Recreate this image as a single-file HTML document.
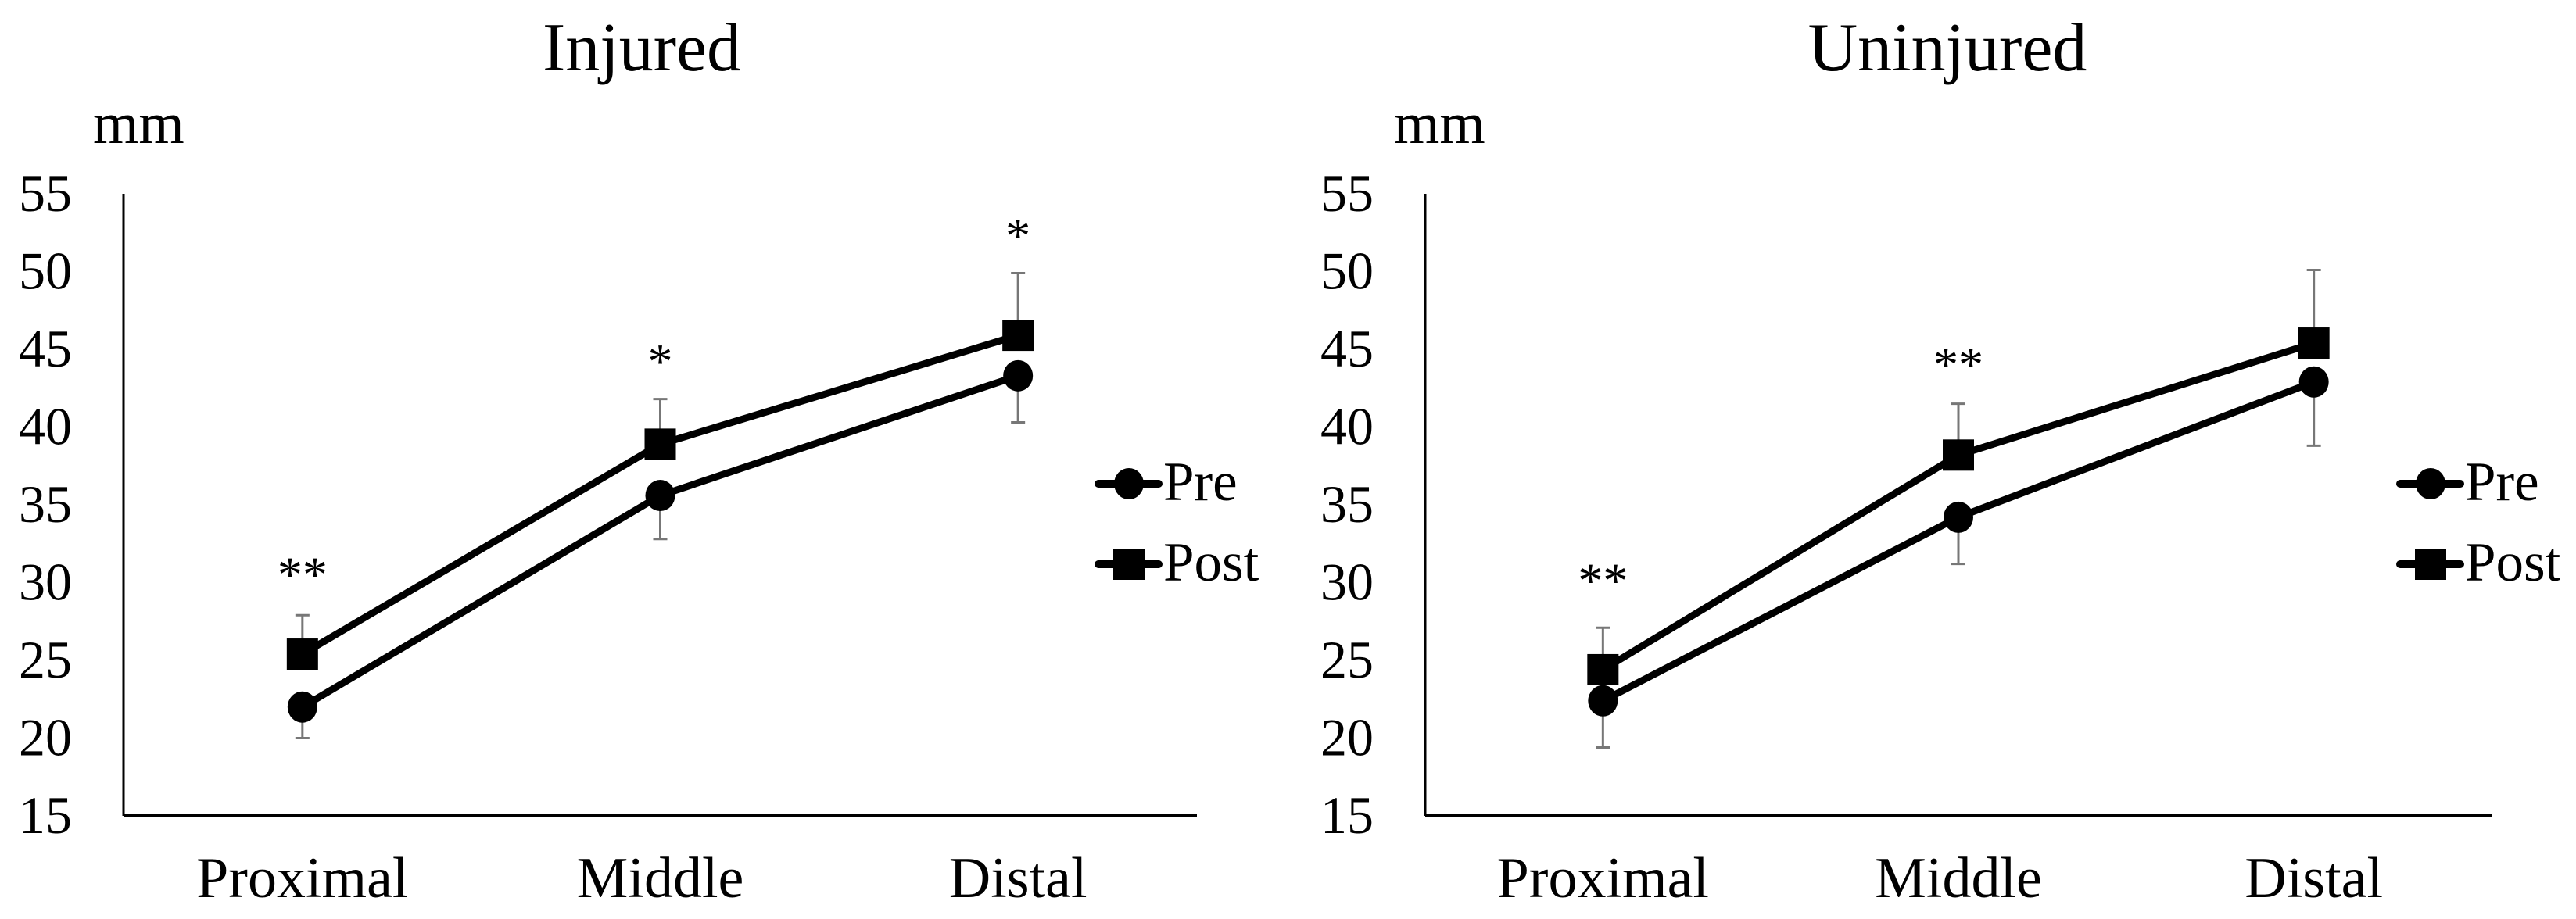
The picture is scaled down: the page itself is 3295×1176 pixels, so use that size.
<!DOCTYPE html>
<html><head><meta charset="utf-8"><style>
html,body{margin:0;padding:0;background:#fff;}
svg{display:block;font-family:"Liberation Serif",serif;}
</style></head><body>
<svg id="fig" width="3295" height="1176" viewBox="0 0 3295 1176"></svg>
<script>
const categories = ["Proximal", "Middle", "Distal"];
const yTicks = [15, 20, 25, 30, 35, 40, 45, 50, 55];
const injuredPre = [22.0, 35.6, 43.3];
const injuredPost = [25.4, 38.9, 45.9];
const injuredPreLower = [20.0, 32.8, 40.3];
const injuredPostUpper = [27.9, 41.8, 49.9];
const injuredStars = ["**", "*", "*"];
const injuredStarVals = [30.9, 44.6, 52.7];
const uninjPre = [22.4, 34.2, 42.9];
const uninjPost = [24.4, 38.2, 45.4];
const uninjPreLower = [19.4, 31.2, 38.8];
const uninjPostUpper = [27.1, 41.5, 50.1];
const uninjStars = ["**", "**", ""];
const uninjStarVals = [30.5, 44.4, 0];

const NS = "http://www.w3.org/2000/svg";
const svg = document.getElementById("fig");
function mk(tag, attrs, parent) {
  const e = document.createElementNS(NS, tag);
  for (const k in attrs) e.setAttribute(k, attrs[k]);
  (parent || svg).appendChild(e);
  return e;
}
function txt(s, x, y, size, anchor, parent) {
  const t = mk("text", {x: x, y: y, "font-size": size, "text-anchor": anchor || "middle", fill: "#000"}, parent);
  t.textContent = s;
  return t;
}

function drawChart(o) {
  const g = mk("g", {});
  
  
  const x0 = o.x0, x1 = o.x1, yTop = 248, yBot = 1044;
  const ymin = 15, ymax = 55;
  const yS = v => yBot - (v - ymin) / (ymax - ymin) * (yBot - yTop);
  const band = (x1 - x0) / categories.length;
  const xS = i => x0 + band * (i + 0.5);

  const title = txt(o.title, o.titleX, 90, 88, "middle", g);
  
  
  const unit = txt("mm", o.unitX, 183, 75, "start", g);
  
  

  yTicks.forEach(v => {
    const t = txt(String(v), o.tickX, yS(v) + 22, 68, "end", g);
    
    
  });
  const ya = mk("line", {x1: x0, y1: yTop, x2: x0, y2: yBot, stroke: "#000", "stroke-width": 3}, g);
  
  
  const xa = mk("line", {x1: x0, y1: yBot, x2: x1, y2: yBot, stroke: "#000", "stroke-width": 4}, g);
  
  
  categories.forEach((c, i) => {
    const t = txt(c, xS(i), 1148, 74, "middle", g);
    
    
  });

  function ebar(i, from, to, name) {
    const x = xS(i);
    const l = mk("line", {x1: x, y1: yS(from), x2: x, y2: yS(to), stroke: "#777", "stroke-width": 3}, g);
    
    
    const c = mk("line", {x1: x - 9, y1: yS(to), x2: x + 9, y2: yS(to), stroke: "#777", "stroke-width": 3}, g);
    
    
  }
  o.pre.forEach((v, i) => ebar(i, v, o.preLower[i], 'pre-error-bar'));
  o.post.forEach((v, i) => ebar(i, v, o.postUpper[i], 'post-error-bar'));

  const preLine = mk("polyline", {points: o.pre.map((v, i) => xS(i) + "," + yS(v)).join(" "), fill: "none", stroke: "#000", "stroke-width": 9}, g);
  
  
  const postLine = mk("polyline", {points: o.post.map((v, i) => xS(i) + "," + yS(v)).join(" "), fill: "none", stroke: "#000", "stroke-width": 9}, g);
  
  

  o.pre.forEach((v, i) => {
    const c = mk("ellipse", {cx: xS(i), cy: yS(v), rx: 19, ry: 20, fill: "#000"}, g);
    
    
  });
  o.post.forEach((v, i) => {
    const r = mk("rect", {x: xS(i) - 20, y: yS(v) - 20, width: 40, height: 40, fill: "#000"}, g);
    
    
  });
  o.stars.forEach((s, i) => {
    if (!s) return;
    const t = txt(s, xS(i), yS(o.starVals[i]) + 29, 64, "middle", g);
    
    
  });

  const lx = o.legX;
  const lg = mk("g", {}, g);
  
  
  const l1 = mk("line", {x1: lx - 39, y1: 619, x2: lx + 38, y2: 619, stroke: "#000", "stroke-width": 10, "stroke-linecap": "round"}, lg);
  
  
  const m1 = mk("ellipse", {cx: lx, cy: 619, rx: 19, ry: 20, fill: "#000"}, lg);
  
  
  const t1 = txt("Pre", lx + 44, 640, 71, "start", lg);
  
  
  const l2 = mk("line", {x1: lx - 39, y1: 722, x2: lx + 38, y2: 722, stroke: "#000", "stroke-width": 10, "stroke-linecap": "round"}, lg);
  
  
  const m2 = mk("rect", {x: lx - 20, y: 702, width: 40, height: 40, fill: "#000"}, lg);
  
  
  const t2 = txt("Post", lx + 44, 743, 71, "start", lg);
  
  
}

drawChart({name: "injured-chart", title: "Injured", titleX: 821, unitX: 119, tickX: 92,
  x0: 158, x1: 1531, pre: injuredPre, post: injuredPost, preLower: injuredPreLower,
  postUpper: injuredPostUpper, stars: injuredStars, starVals: injuredStarVals, legX: 1444});
drawChart({name: "uninjured-chart", title: "Uninjured", titleX: 2491, unitX: 1783, tickX: 1757,
  x0: 1823, x1: 3187, pre: uninjPre, post: uninjPost, preLower: uninjPreLower,
  postUpper: uninjPostUpper, stars: uninjStars, starVals: uninjStarVals, legX: 3109});
</script>
</body></html>
